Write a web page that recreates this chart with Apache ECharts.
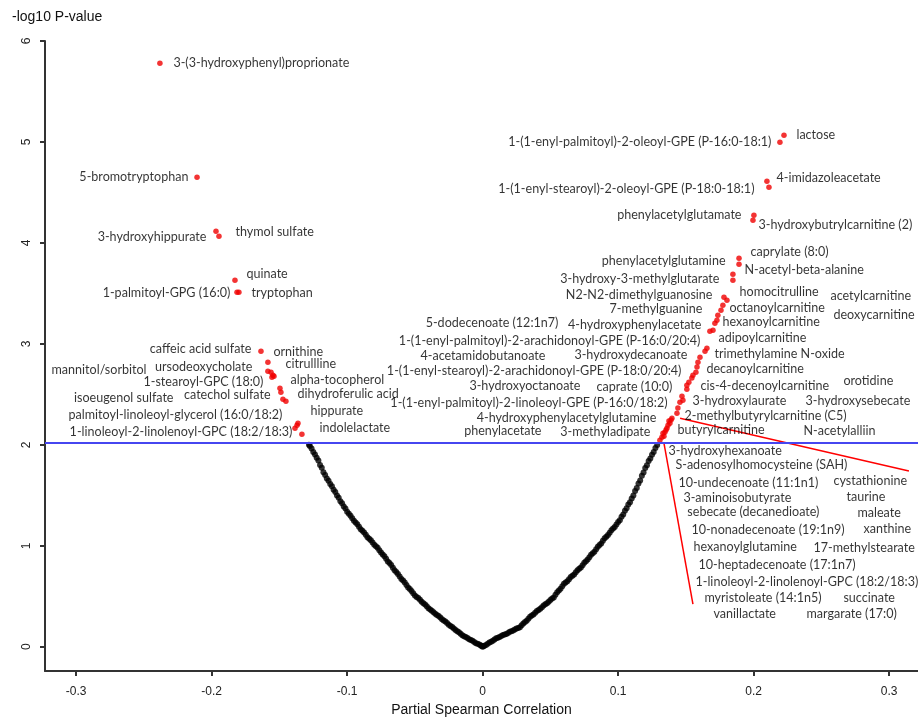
<!DOCTYPE html>
<html>
<head>
<meta charset="utf-8">
<script src="https://cdn.jsdelivr.net/npm/echarts@6/dist/echarts.min.js"></script>
<style>
  html, body { margin: 0; padding: 0; background: #fff; }
  #chart { width: 918px; height: 718px; }
</style>
</head>
<body>
<div id="chart"></div>
<script>
// tick values
const xTicks = [-0.3, -0.2, -0.1, 0, 0.1, 0.2, 0.3];
const yTicks = [0, 1, 2, 3, 4, 5, 6];
const threshold = 2.02;

// non-significant metabolites (black)
const blackX = [0, -0.001, 0.0005,
  -0.0025, -0.005, -0.0075, -0.010, -0.0125, -0.015, -0.0175, -0.020, -0.0225, -0.025,
  -0.0275, -0.030, -0.0325, -0.035, -0.0375, -0.040, -0.0425, -0.045, -0.0475, -0.050,
  -0.0525, -0.055, -0.0575, -0.060, -0.0625, -0.065, -0.0675, -0.070, -0.0725, -0.075,
  -0.0775, -0.080, -0.0825, -0.085, -0.0875, -0.090, -0.0925, -0.095, -0.0975, -0.100,
  -0.10125, -0.1025, -0.10375, -0.105, -0.10625, -0.1075, -0.10875, -0.110, -0.11125, -0.1125,
  -0.11375, -0.115, -0.11625, -0.1175, -0.11875, -0.120, -0.12125, -0.1225, -0.12375, -0.125,
  -0.12625, -0.1275, -0.1282,
  -0.00125, -0.00375, -0.00625, -0.00875, -0.01125, -0.01375, -0.01625, -0.01875, -0.02125, -0.02375,
  -0.02625, -0.02875, -0.03125, -0.03375, -0.03625, -0.03875, -0.04125, -0.04375, -0.04625, -0.04875,
  -0.05125, -0.05375, -0.05625, -0.05875, -0.06125, -0.06375, -0.06625, -0.06875, -0.07125, -0.07375,
  -0.07625, -0.07875, -0.08125, -0.08375, -0.08625, -0.08875, -0.09125, -0.09375, -0.09625, -0.09875,
  0.0025, 0.005, 0.0075, 0.010, 0.0125, 0.015, 0.0175, 0.020, 0.0225, 0.025,
  0.0275, 0.030, 0.0325, 0.035, 0.0375, 0.040, 0.0425, 0.045, 0.0475, 0.050,
  0.0525, 0.055, 0.0575, 0.060, 0.0625, 0.065, 0.0675, 0.070, 0.0725, 0.075,
  0.0775, 0.080, 0.0825, 0.085, 0.0875, 0.090, 0.0925, 0.095, 0.0975, 0.100,
  0.10125, 0.1025, 0.10375, 0.105, 0.10625, 0.1075, 0.10875, 0.110, 0.11125, 0.1125,
  0.11375, 0.115, 0.11625, 0.1175, 0.11875, 0.120, 0.12125, 0.1225, 0.12375, 0.125,
  0.12625, 0.1275, 0.1288,
  0.00125, 0.00375, 0.00625, 0.00875, 0.01125, 0.01375, 0.01625, 0.01875, 0.02125, 0.02375,
  0.02625, 0.02875, 0.03125, 0.03375, 0.03625, 0.03875, 0.04125, 0.04375, 0.04625, 0.04875,
  0.05125, 0.05375, 0.05625, 0.05875, 0.06125, 0.06375, 0.06625, 0.06875, 0.07125, 0.07375,
  0.07625, 0.07875, 0.08125, 0.08375, 0.08625, 0.08875, 0.09125, 0.09375, 0.09625, 0.09875];
const blackY = [0, 0.010, 0.004,
  0.022, 0.036, 0.060, 0.074, 0.098, 0.113, 0.144, 0.165, 0.197, 0.218,
  0.251, 0.272, 0.305, 0.326, 0.358, 0.381, 0.419, 0.445, 0.484, 0.508,
  0.552, 0.588, 0.637, 0.672, 0.722, 0.758, 0.810, 0.845, 0.897, 0.933,
  0.980, 1.010, 1.056, 1.086, 1.132, 1.164, 1.214, 1.248, 1.297, 1.338,
  1.370, 1.390, 1.421, 1.441, 1.476, 1.498, 1.534, 1.556, 1.590, 1.611,
  1.645, 1.666, 1.702, 1.729, 1.774, 1.800, 1.844, 1.872, 1.905, 1.928,
  1.963, 1.988, 2.000,
  0.012, 0.030, 0.047, 0.068, 0.087, 0.104, 0.130, 0.153, 0.182, 0.206,
  0.236, 0.260, 0.289, 0.314, 0.343, 0.368, 0.401, 0.432, 0.466, 0.494,
  0.531, 0.571, 0.611, 0.656, 0.697, 0.741, 0.783, 0.829, 0.871, 0.914,
  0.957, 0.995, 1.034, 1.070, 1.110, 1.148, 1.190, 1.231, 1.272, 1.318,
  0.018, 0.043, 0.059, 0.084, 0.096, 0.116, 0.127, 0.148, 0.160, 0.181,
  0.193, 0.231, 0.258, 0.298, 0.320, 0.354, 0.376, 0.409, 0.430, 0.464,
  0.489, 0.540, 0.575, 0.624, 0.650, 0.691, 0.716, 0.758, 0.785, 0.832,
  0.864, 0.911, 0.942, 0.991, 1.024, 1.074, 1.107, 1.154, 1.187, 1.236,
  1.254, 1.287, 1.310, 1.348, 1.371, 1.408, 1.431, 1.469, 1.499, 1.543,
  1.572, 1.616, 1.647, 1.694, 1.725, 1.770, 1.799, 1.841, 1.865, 1.902,
  1.929, 1.970, 1.998,
  0.010, 0.031, 0.050, 0.072, 0.090, 0.106, 0.122, 0.137, 0.154, 0.171,
  0.187, 0.212, 0.245, 0.278, 0.309, 0.337, 0.365, 0.392, 0.420, 0.447,
  0.477, 0.515, 0.557, 0.600, 0.637, 0.670, 0.704, 0.737, 0.772, 0.808,
  0.848, 0.887, 0.927, 0.966, 1.008, 1.049, 1.090, 1.130, 1.171, 1.212];

// significant metabolites (red)
const redX = [-0.2382, -0.2108, -0.1968, -0.1946, -0.1828, -0.1799, -0.1813, -0.1636, -0.1585,
  -0.1585, -0.1562, -0.1548, -0.1555, -0.1540, -0.1496, -0.1489, -0.1474, -0.1452,
  -0.1363, -0.1370, -0.1385, -0.1334,
  0.2224, 0.2194, 0.2098, 0.2113, 0.2002, 0.1995, 0.1892, 0.1892, 0.1847, 0.1847,
  0.1781, 0.1803, 0.1773, 0.1759, 0.1736, 0.1729, 0.1714, 0.1700, 0.1677,
  0.1655, 0.1641, 0.1604, 0.1589, 0.1582, 0.1574, 0.1552, 0.1544, 0.1522, 0.1507, 0.1507,
  0.1471, 0.1478, 0.1456, 0.1441, 0.1434, 0.1397, 0.1390, 0.1382, 0.1375, 0.1368, 0.1360,
  0.1353, 0.1345, 0.1338, 0.1331, 0.1323, 0.1308];
const redY = [5.779, 4.650, 4.116, 4.066, 3.631, 3.512, 3.512, 2.928, 2.819,
  2.730, 2.720, 2.690, 2.670, 2.680, 2.561, 2.521, 2.452, 2.433,
  2.215, 2.195, 2.165, 2.106,
  5.066, 4.997, 4.611, 4.551, 4.274, 4.224, 3.849, 3.789, 3.690, 3.631,
  3.462, 3.432, 3.383, 3.334, 3.284, 3.235, 3.205, 3.135, 3.126,
  2.957, 2.928, 2.868, 2.819, 2.770, 2.720, 2.690, 2.661, 2.621, 2.591, 2.551,
  2.482, 2.442, 2.423, 2.364, 2.314, 2.264, 2.245, 2.215, 2.235, 2.195, 2.165,
  2.146, 2.126, 2.086, 2.116, 2.076, 2.046];

// metabolite names, anchor (x, y) and side: 'L' text starts at anchor, 'R' text ends at anchor
const labelNames = [
  '3-(3-hydroxyphenyl)proprionate', '5-bromotryptophan', '3-hydroxyhippurate', 'thymol sulfate',
  'quinate', '1-palmitoyl-GPG (16:0)', 'tryptophan', 'caffeic acid sulfate', 'ornithine',
  'ursodeoxycholate', 'citrullline', 'mannitol/sorbitol', '1-stearoyl-GPC (18:0)',
  'alpha-tocopherol', 'catechol sulfate', 'dihydroferulic acid', 'isoeugenol sulfate',
  'palmitoyl-linoleoyl-glycerol (16:0/18:2)', 'hippurate',
  '1-linoleoyl-2-linolenoyl-GPC (18:2/18:3)', 'indolelactate',
  'lactose', '1-(1-enyl-palmitoyl)-2-oleoyl-GPE (P-16:0-18:1)', '4-imidazoleacetate',
  '1-(1-enyl-stearoyl)-2-oleoyl-GPE (P-18:0-18:1)', 'phenylacetylglutamate',
  '3-hydroxybutrylcarnitine (2)', 'caprylate (8:0)', 'phenylacetylglutamine',
  'N-acetyl-beta-alanine', '3-hydroxy-3-methylglutarate', 'homocitrulline', 'acetylcarnitine',
  'N2-N2-dimethylguanosine', 'octanoylcarnitine', 'deoxycarnitine', '7-methylguanine',
  'hexanoylcarnitine', '4-hydroxyphenylacetate', '5-dodecenoate (12:1n7)', 'adipoylcarnitine',
  '1-(1-enyl-palmitoyl)-2-arachidonoyl-GPE (P-16:0/20:4)', 'trimethylamine N-oxide',
  '3-hydroxydecanoate', '4-acetamidobutanoate', 'decanoylcarnitine',
  '1-(1-enyl-stearoyl)-2-arachidonoyl-GPE (P-18:0/20:4)', 'cis-4-decenoylcarnitine',
  'orotidine', 'caprate (10:0)', '3-hydroxyoctanoate', '3-hydroxylaurate', '3-hydroxysebecate',
  '1-(1-enyl-palmitoyl)-2-linoleoyl-GPE (P-16:0/18:2)', '2-methylbutyrylcarnitine (C5)',
  '4-hydroxyphenylacetylglutamine', 'butyrylcarnitine', 'N-acetylalliin', 'phenylacetate',
  '3-methyladipate',
  '3-hydroxyhexanoate', 'S-adenosylhomocysteine (SAH)', '10-undecenoate (11:1n1)',
  'cystathionine', '3-aminoisobutyrate', 'taurine', 'sebecate (decanedioate)', 'maleate',
  '10-nonadecenoate (19:1n9)', 'xanthine', 'hexanoylglutamine', '17-methylstearate',
  '10-heptadecenoate (17:1n7)', '1-linoleoyl-2-linolenoyl-GPC (18:2/18:3)',
  'myristoleate (14:1n5)', 'succinate', 'vanillactate', 'margarate (17:0)'
];
const labelX = [
  -0.2286, -0.2168, -0.2035, -0.1828, -0.1747, -0.1858, -0.1710, -0.1703, -0.1548,
  -0.1696, -0.1459, -0.2477, -0.1614, -0.1422, -0.1562, -0.1370, -0.2278, -0.1474, -0.1275,
  -0.1400, -0.1208,
  0.2312, 0.2135, 0.2165, 0.2010, 0.1914, 0.2032, 0.1973, 0.1796, 0.1928, 0.1751, 0.1892,
  0.2563, 0.1700, 0.1818, 0.2585, 0.1626, 0.1766, 0.1618, 0.0563, 0.1737, 0.1611, 0.1707,
  0.1515, 0.0467, 0.1648, 0.1471, 0.1604, 0.2659, 0.1404, 0.0725, 0.1545, 0.2379, 0.1368,
  0.1486, 0.1286, 0.1434, 0.2364, 0.0438, 0.1242,
  0.1368, 0.1419, 0.1441, 0.2585, 0.1478, 0.2681, 0.1507, 0.2762, 0.1537, 0.2807, 0.1552,
  0.2438, 0.1589, 0.1567, 0.1633, 0.2659, 0.1700, 0.2386
];
const labelY = [
  5.779, 4.650, 4.056, 4.106, 3.690, 3.502, 3.502, 2.948, 2.918,
  2.769, 2.799, 2.740, 2.621, 2.641, 2.492, 2.502, 2.462, 2.294, 2.334,
  2.126, 2.165,
  5.066, 4.997, 4.641, 4.532, 4.274, 4.175, 3.908, 3.819, 3.730, 3.641, 3.512,
  3.472, 3.482, 3.353, 3.284, 3.343, 3.215, 3.185, 3.205, 3.056, 3.027, 2.898,
  2.888, 2.878, 2.750, 2.730, 2.581, 2.631, 2.571, 2.581, 2.433, 2.433, 2.413,
  2.284, 2.264, 2.146, 2.136, 2.136, 2.126,
  1.938, 1.799, 1.621, 1.641, 1.472, 1.482, 1.334, 1.324, 1.155, 1.165, 0.987,
  0.977, 0.809, 0.641, 0.482, 0.482, 0.324, 0.324
];
const labelSide = 'LRRLLRLRLRLRRLRLRRLRL' + 'LRLRRLLRLRLLRLLRLRRLRLRRLRLLRRLLRLRLLRR' + 'LLLLLLLLLLLLLLLLLL';

// leader lines to the labels below the threshold
const leaderA = [[0.1457, 2.264], [0.3146, 1.740]];
const leaderB = [[0.1338, 2.017], [0.1552, 0.423]];

const chart = echarts.init(document.getElementById('chart'));

const blackData = blackX.map((x, i) => [x, blackY[i]]);
const redData = redX.map((x, i) => [x, redY[i]]);
const labelData = labelNames.map((n, i) => ({ name: n, value: [labelX[i], labelY[i]], side: labelSide[i] }));

const textStyle = { fontFamily: 'Lato', fontSize: 12.55, color: '#000' };
const labelSeries = (side, pos) => ({
  type: 'scatter',
  silent: true,
  symbolSize: 1,
  itemStyle: { color: 'rgba(0,0,0,0)' },
  z: 5,
  label: Object.assign({ show: true, position: pos, distance: 0, formatter: p => p.name }, textStyle),
  data: labelData.filter(d => d.side === side).map(d => ({ name: d.name, value: d.value }))
});

const option = {
  animation: false,
  backgroundColor: '#fff',
  title: {
    text: '-log10 P-value',
    left: 7, top: 5,
    textStyle: { fontFamily: 'Liberation Sans', fontSize: 14, fontWeight: 'normal', color: '#111' }
  },
  grid: { left: 45, right: 0, top: 41, bottom: 47, outerBoundsMode: 'none', containLabel: false },
  xAxis: {
    type: 'value',
    min: -0.323, max: 0.3213,
    name: 'Partial Spearman Correlation',
    nameLocation: 'middle',
    nameGap: 29,
    nameTextStyle: { fontFamily: 'Liberation Sans', fontSize: 14, color: '#111' },
    axisLine: { onZero: false, lineStyle: { color: '#333', width: 2 } },
    axisTick: { show: true, length: 5, customValues: xTicks, lineStyle: { color: '#333', width: 2 } },
    axisLabel: { customValues: xTicks, margin: 15, fontFamily: 'Liberation Sans', fontSize: 12, color: '#222',
      formatter: v => String(Math.round(v * 10) / 10) },
    splitLine: { show: false }
  },
  yAxis: {
    type: 'value',
    min: -0.24, max: 6,
    axisLine: { onZero: false, lineStyle: { color: '#333', width: 2 } },
    axisTick: { show: true, length: 5, customValues: yTicks, lineStyle: { color: '#333', width: 2 } },
    axisLabel: { customValues: yTicks, rotate: 90, margin: 12, fontFamily: 'Liberation Sans', fontSize: 12, color: '#222' },
    splitLine: { show: false }
  },
  series: [
    {
      type: 'scatter', data: [], silent: true, z: 1,
      markLine: {
        silent: true, symbol: 'none', label: { show: false },
        lineStyle: { color: '#4646f0', width: 2, type: 'solid' },
        data: [{ yAxis: threshold }]
      }
    },
    {
      type: 'line', data: leaderA, symbol: 'none', silent: true, z: 2,
      lineStyle: { color: '#ff0000', width: 1.5 }
    },
    {
      type: 'line', data: leaderB, symbol: 'none', silent: true, z: 2,
      lineStyle: { color: '#ff0000', width: 1.5 }
    },
    {
      type: 'scatter', data: blackData, symbolSize: 6, silent: true, z: 3,
      itemStyle: { color: '#000' }
    },
    {
      type: 'scatter', data: redData, symbolSize: 5.5, silent: true, z: 4,
      itemStyle: { color: '#f00000' }
    },
    labelSeries('L', 'right'),
    labelSeries('R', 'left')
  ]
};
chart.setOption(option);
</script>
</body>
</html>
